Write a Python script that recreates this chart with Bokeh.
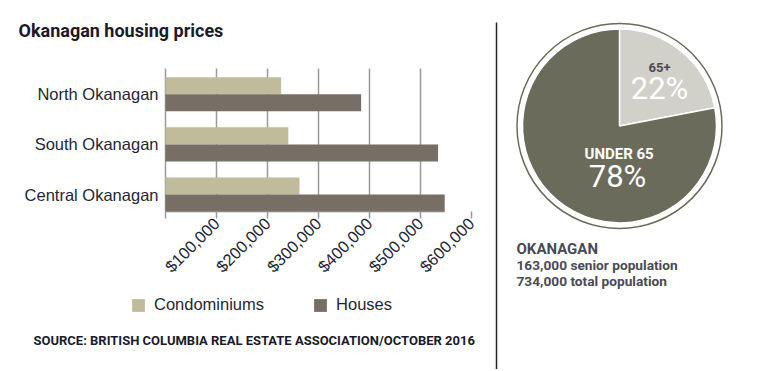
import math
from bokeh.plotting import figure
from bokeh.models import Range1d, FixedTicker, Legend, LegendItem, Label, ColumnDataSource
from bokeh.layouts import row
from bokeh.transform import dodge
from bokeh.embed import file_html
from bokeh.resources import INLINE

# ---------------- data ----------------
regions = ["North Okanagan", "South Okanagan", "Central Okanagan"]
condos = [227000, 241000, 263000]
houses = [384000, 535000, 548000]
price_ticks = [0, 100000, 200000, 300000, 400000, 500000, 600000]
price_tick_labels = ["", "$100,000", "$200,000", "$300,000", "$400,000", "$500,000", "$600,000"]
grid_ticks = [0, 100000, 200000, 300000, 400000, 500000]

age_groups = ["65+", "UNDER 65"]
age_shares = [22, 78]
senior_population = 163000
total_population = 734000

# ---------------- styles ----------------
CONDO = "#bfbb9b"
HOUSE = "#776f66"
TXT = "#1f2733"
PIE_COLORS = ["#d1d0c9", "#6b6b5b"]
PIE_TXT = "#4a4a55"
HEAD = "#1a1a2a"

# ---------------- bar chart (frame = whole left figure) ----------------
W1, H = 494, 369
PX_PER_100K = 50.95
ZERO_PX = 165          # distance of value 0 from figure's left edge
PX_PER_CAT = 50.1
ZERO_Y_PX = 194        # distance of the lowest category centre from the figure's top
x_start = -ZERO_PX / PX_PER_100K * 1e5
x_end = (W1 - ZERO_PX) / PX_PER_100K * 1e5
y_end = ZERO_Y_PX / PX_PER_CAT
y_start = -(H - ZERO_Y_PX) / PX_PER_CAT
bar_h = 0.34
band_top = 2.515

ypos = [len(regions) - 1 - i for i in range(len(regions))]
src = ColumnDataSource(dict(y=ypos, condo=condos, house=houses, region=regions))

p = figure(width=W1, height=H, x_range=Range1d(x_start, x_end), y_range=Range1d(y_start, y_end),
           output_backend="svg", toolbar_location=None, min_border=0, frame_align=False)
p.outline_line_color = None
p.background_fill_color = None
p.border_fill_color = None

r_condo = p.hbar(y=dodge("y", bar_h / 2, range=p.y_range), right="condo", left=0, height=bar_h,
                 source=src, fill_color=CONDO, line_color=None)
r_house = p.hbar(y=dodge("y", -bar_h / 2, range=p.y_range), right="house", left=0, height=bar_h,
                 source=src, fill_color=HOUSE, line_color=None)

# axis base line only up to the largest value
p.segment(x0=[0], y0=[-bar_h], x1=[max(houses)], y1=[-bar_h], line_color="#8c857c", line_width=1.5)

xa = p.xaxis[0]
xa.fixed_location = -bar_h
xa.ticker = FixedTicker(ticks=price_ticks)
xa.major_label_overrides = {t: l for t, l in zip(price_ticks, price_tick_labels)}
xa.major_label_orientation = math.pi / 4
xa.axis_line_color = None
xa.major_tick_line_color = "#9a9a9a"
xa.major_tick_line_width = 1.5
xa.major_tick_out = 7
xa.major_tick_in = 0
xa.minor_tick_line_color = None
xa.major_label_text_font = "Liberation Sans"
xa.major_label_text_font_size = "16.5px"
xa.major_label_text_color = TXT
xa.major_label_standoff = 2

ya = p.yaxis[0]
ya.fixed_location = 0
ya.ticker = FixedTicker(ticks=ypos)
ya.major_label_overrides = {y: r for y, r in zip(ypos, regions)}
ya.axis_line_color = None
ya.major_tick_line_color = None
ya.major_tick_out = 0
ya.major_tick_in = 0
ya.minor_tick_line_color = None
ya.major_label_text_font = "Liberation Sans"
ya.major_label_text_font_size = "16.5px"
ya.major_label_text_color = TXT
ya.major_label_standoff = 7

p.xgrid.ticker = FixedTicker(ticks=grid_ticks)
p.xgrid.cross_bounds = (-bar_h, band_top)
p.xgrid.grid_line_color = "#9a9a9a"
p.xgrid.grid_line_width = 1.5
p.ygrid.grid_line_color = None

legend = Legend(items=[LegendItem(label="Condominiums", renderers=[r_condo]),
                       LegendItem(label="Houses", renderers=[r_house])],
                location=(130, H - 314), orientation="horizontal",
                glyph_width=16, glyph_height=16, label_standoff=8, spacing=48,
                padding=0, margin=0, border_line_color=None, background_fill_alpha=0,
                label_text_font="Liberation Sans", label_text_font_size="16.5px",
                label_text_color=TXT, label_height=16)
p.add_layout(legend, "center")

p.add_layout(Label(x=18, y=H - 29.5, x_units="screen", y_units="screen",
                   text="Okanagan housing prices", text_font="Roboto",
                   text_font_style="bold", text_font_size="18px", text_color=HEAD,
                   text_baseline="alphabetic"))
p.add_layout(Label(x=33, y=H - 340.3, x_units="screen", y_units="screen",
                   text="SOURCE: BRITISH COLUMBIA REAL ESTATE ASSOCIATION/OCTOBER 2016",
                   text_font="Roboto", text_font_style="bold",
                   text_font_size="13px", text_color=HEAD, text_baseline="alphabetic"))

# ---------------- pie chart ----------------
W2 = 268
q = figure(width=W2, height=H, x_range=Range1d(-2, W2 - 2), y_range=Range1d(0, H),
           output_backend="svg", toolbar_location=None, min_border=0, frame_align=False)
q.axis.visible = False
q.grid.grid_line_color = None
q.outline_line_color = None
q.background_fill_color = None
q.border_fill_color = None

q.segment(x0=[0], y0=[0], x1=[0], y1=[H - 22], line_color="#222222", line_width=1.5)

cx, cy = 123, H - 125.4
total = sum(age_shares)
cum = 0
starts, ends = [], []
for s in age_shares:
    a0 = math.pi / 2 - cum / total * 2 * math.pi
    cum += s
    a1 = math.pi / 2 - cum / total * 2 * math.pi
    starts.append(a1)
    ends.append(a0)
pie_src = ColumnDataSource(dict(start=starts, end=ends, color=PIE_COLORS, group=age_groups, share=age_shares))
q.circle(x=[cx], y=[cy], radius=102.5, fill_color=None, line_color="#6b6b5b", line_width=1.5)
q.wedge(x=cx, y=cy, radius=97, start_angle="start", end_angle="end", source=pie_src,
        fill_color="color", line_color="white", line_width=1.5)

def lab(x, y, text, size, color, bold=True, align="center"):
    q.add_layout(Label(x=x, y=y, text=text, text_font="Roboto",
                       text_font_style="bold" if bold else "normal",
                       text_font_size=size, text_color=color, text_align=align,
                       text_baseline="alphabetic"))

lab(163, H - 67.0, age_groups[0], "13px", PIE_TXT)
lab(163, H - 88.3, f"{age_shares[0]}%", "31px", "white", bold=False)
lab(122.6, H - 153.6, age_groups[1], "15px", "white")
lab(121, H - 175.5, f"{age_shares[1]}%", "31px", "white", bold=False)

lab(20, H - 248.6, "OKANAGAN", "15px", PIE_TXT, align="left")
lab(20, H - 264.6, f"{senior_population:,} senior population", "13.7px", PIE_TXT, align="left")
lab(20, H - 280.6, f"{total_population:,} total population", "13.7px", PIE_TXT, align="left")

layout = row(p, q)
open("out.html", "w").write(file_html(layout, INLINE))
